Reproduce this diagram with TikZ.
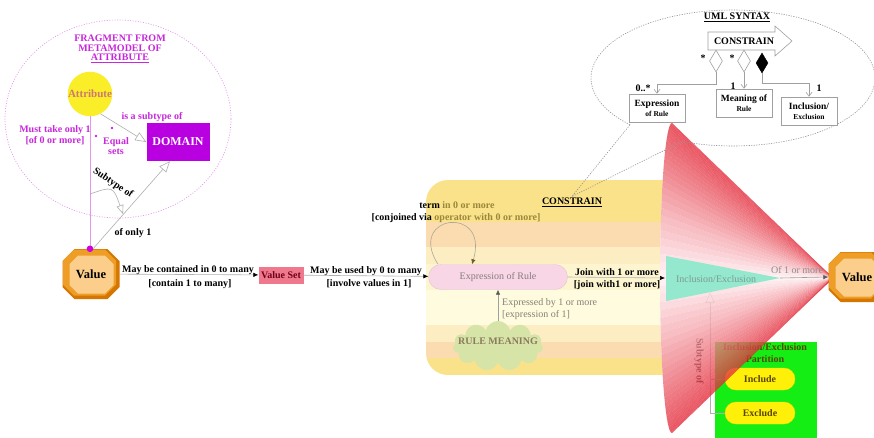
\documentclass[tikz,border=0pt]{standalone}
\usepackage{fontspec}
\setmainfont{Liberation Serif}
\usetikzlibrary{arrows.meta,shapes.geometric,shapes.misc,shapes.symbols,calc}

\definecolor{mag}{RGB}{200,40,220}
\definecolor{magline}{RGB}{228,150,232}
\definecolor{magdotc}{RGB}{205,0,225}
\definecolor{domainc}{RGB}{185,0,225}
\definecolor{attrc}{RGB}{250,238,40}
\definecolor{attrtext}{RGB}{205,120,115}
\definecolor{linegray}{RGB}{175,175,175}
\definecolor{octdark}{RGB}{212,118,0}
\definecolor{octmid}{RGB}{238,158,38}
\definecolor{octin}{RGB}{252,206,140}
\definecolor{valset}{RGB}{240,120,140}
\definecolor{vsettext}{RGB}{110,0,25}
\definecolor{exprpink}{RGB}{248,214,230}
\definecolor{exprtext}{RGB}{135,125,125}
\definecolor{cloudc}{RGB}{214,228,168}
\definecolor{rmtext}{RGB}{140,122,92}
\definecolor{band1}{RGB}{250,226,138}
\definecolor{band2}{RGB}{250,220,176}
\definecolor{band3}{RGB}{252,238,194}
\definecolor{band4}{RGB}{253,245,208}
\definecolor{band5}{RGB}{255,251,222}
\definecolor{olivetxt}{RGB}{155,135,60}
\definecolor{conered}{RGB}{228,45,60}
\definecolor{conelight}{RGB}{255,240,242}
\definecolor{tealc}{RGB}{148,232,206}
\definecolor{tealtext}{RGB}{125,155,148}
\definecolor{greenbox}{RGB}{20,238,20}
\definecolor{ovalyel}{RGB}{255,240,10}
\definecolor{olivetext}{RGB}{90,70,0}
\definecolor{umlgray}{RGB}{160,160,160}

\newcommand{\boldlbl}{\fontsize{10}{12.5}\selectfont\bfseries}
\newcommand{\plainlbl}{\fontsize{10}{12.5}\selectfont}

% octagon around a centre: centre, half width, half height, chamfer
\newcommand{\octpath}[4]{%
  ($(#1)+(-#2+#4,-#3)$) -- ($(#1)+(#2-#4,-#3)$) -- ($(#1)+(#2,-#3+#4)$) -- ($(#1)+(#2,#3-#4)$)
  -- ($(#1)+(#2-#4,#3)$) -- ($(#1)+(-#2+#4,#3)$) -- ($(#1)+(-#2,#3-#4)$) -- ($(#1)+(-#2,-#3+#4)$) -- cycle}

% octagonal "Value" node: name, x, y
\newcommand{\valuenode}[3]{%
  \node[minimum width=57, minimum height=50, inner sep=0pt] (#1) at (#2,#3) {};
  \coordinate (#1-m) at ($(#1)+(-1.5,-1.5)$);
  \coordinate (#1-i) at ($(#1)+(0.5,0.5)$);
  \fill[octdark] \octpath{#1}{28.5}{25}{12};
  \fill[octmid] \octpath{#1-m}{26.5}{23}{11};
  \fill[octin] \octpath{#1-i}{22}{19}{8.5};
  \node[font=\fontsize{12.5}{14}\selectfont\bfseries] at (#1) {Value};
}

\begin{document}
\begin{tikzpicture}[x=1pt,y=-1pt,
  every node/.style={font=\boldlbl, inner sep=1pt},
  flow/.style={draw=linegray, line width=0.6pt, -{Latex[length=5pt,width=4.5pt,color=black]}},
  grayflow/.style={draw=gray!75, line width=0.6pt, -{Latex[length=5pt,width=4.5pt,color=gray!70!black]}},
  inherit/.style={draw=linegray, line width=0.6pt, -{Triangle[open,length=11pt,width=9pt]}},
  magtext/.style={text=mag, align=center, font=\fontsize{10}{10.5}\selectfont\bfseries},
  dotsline/.style={draw=gray!85, line width=0.6pt, dash pattern=on 1.2pt off 1.3pt},
  umlline/.style={draw=umlgray, line width=0.6pt, -{Straight Barb[length=4pt,width=6pt]}},
  umlbox/.style={draw=umlgray, fill=white, line width=0.6pt, minimum width=56, minimum height=28,
                 align=center, inner sep=1pt, font=\fontsize{9.5}{10.5}\selectfont\bfseries},
  ovalbox/.style={rounded corners=11, fill=ovalyel, draw=ovalyel!80!orange, minimum width=70,
                  minimum height=22, text=olivetext}
]
\useasboundingbox (0,0) rectangle (874,437);
\fill[white] (0,0) rectangle (874,437);

% ---------------- fragment from the metamodel of attribute
\draw[magline, line width=0.7pt, dash pattern=on 1pt off 1.6pt] (118,119) ellipse [x radius=113, y radius=99];
\node[magtext, font=\fontsize{10}{9.5}\selectfont\bfseries] (frag) at (120,49)
  {FRAGMENT FROM\\METAMODEL OF\\\underline{ATTRIBUTE}};
\node[circle, fill=attrc, minimum size=44, inner sep=0pt, text=attrtext,
      font=\fontsize{11}{12}\selectfont\bfseries] (attr) at (90,94) {Attribute};
\node[fill=domainc, minimum width=63, minimum height=38, text=white,
      font=\fontsize{12}{14}\selectfont\bfseries] (domain) at (178,142) {DOMAIN};

\valuenode{valL}{91}{274}
\draw[magline, line width=0.9pt] (attr.south) -- (attr.south |- valL.north);
\fill[magdotc] (attr.south |- valL.north) circle (3.3);

\node[magtext] (subA) at (152,117) {is a subtype of};
\node[magtext] (must) at (55,135) {Must take only 1\\{}[of 0 or more]};
\node[magtext] (eqs) at (116,146) {Equal\\sets};
\fill[mag] (96,136) circle (1.4);
\fill[mag] (112,128) circle (1.4);

\draw[inherit] (attr.-62) -- (domain.west);
\coordinate (vtop) at ($(valL.north)+(2,0)$);
\coordinate (dsb) at ($(domain.south)+(-8,0)$);
\draw[inherit] (vtop) -- (dsb);
\node[rotate=-34] (subt) at (113,183) {Subtype of};
\coordinate (cA) at (90,194);
\coordinate (cB) at (123,214);
\draw[draw=linegray, line width=0.6pt, -{Triangle[open,length=9pt,width=7pt]}] (cA) .. controls (113,186) .. (cB);
\node (only1) at (133,233) {of only 1};

% ---------------- value set
\node[fill=valset, minimum width=45, minimum height=17, text=vsettext] (vset) at (281,275) {Value Set};
\draw[flow] (valL) -- (vset);
\node (l1a) at (188,270) {May be contained in 0 to many};
\node (l1b) at (190,284) {[contain 1 to many]};

% ---------------- striped cylinder, ending on the cone's rim
\begin{scope}
  \clip[rounded corners=22] (426,180) rectangle (740,375);
  \clip (400,100) -- (672,123) arc[start angle=270, end angle=90, x radius=12, y radius=155]
        -- (400,460) -- cycle;
  \fill[band1] (420,180) rectangle (700,222);
  \fill[band2] (420,222) rectangle (700,247);
  \fill[band3] (420,247) rectangle (700,264);
  \fill[band4] (420,264) rectangle (700,290);
  \fill[band5] (420,290) rectangle (700,325);
  \fill[band3] (420,325) rectangle (700,342);
  \fill[band2] (420,342) rectangle (700,358);
  \fill[band1] (420,358) rectangle (700,375);
\end{scope}
\node (cnl) at (572,202) {\underline{CONSTRAIN}};

% ---------------- expression of rule and rule meaning
\node[rounded corners=12.5, fill=exprpink, draw=exprpink!80!gray, minimum width=139, minimum height=25,
      text=exprtext, font=\plainlbl] (expr) at (498,277) {Expression of Rule};
\draw[flow] (vset) -- (expr);
\node (l2a) at (366,271) {May be used by 0 to many};
\node (l2b) at (369,284) {[involve values in 1]};

\coordinate (lpA) at ($(expr.north)+(-60,0)$);
\coordinate (lpB) at ($(expr.north)+(-26,0)$);
\draw[draw=gray!60!olivetxt!70, line width=0.6pt, -{Latex[length=5pt,width=4.5pt,color=olivetxt!70!black]}]
  (lpA) .. controls +(-32,-50) and +(18,-60) .. (lpB);
\node (t1) at (457,205) {term\ \textcolor{olivetxt}{in 0 or more}};
\node (t2) at (456,218) {[conjoined via\ \textcolor{olivetxt}{operator with 0 or more]}};

\node[cloud, cloud puffs=11, aspect=1.8, fill=cloudc, minimum width=90, minimum height=50, inner sep=0pt]
  (cloud) at (498,346) {};
\node[text=rmtext] (rm) at (498,341) {RULE MEANING};
\draw[grayflow] (cloud.north) -- (expr.south);
\node[anchor=west, align=left, text=gray!85!olivetxt, font=\plainlbl] (exby) at (501,309)
  {Expressed by 1 or more\\{}[expression of 1]};

% ---------------- inclusion / exclusion partition
\node[fill=greenbox, anchor=north west, minimum width=102, minimum height=100, inner sep=0pt] (part) at (715,342) {};
\node[text=olivetext, align=center] (ptitle) at (765,353) {Inclusion/Exclusion\\Partition};
\node[ovalbox] (inc) at (760,379) {Include};
\node[ovalbox] (exc) at (760,413) {Exclude};
\coordinate (tealB) at (710,292);
\draw[inherit] (exc.west) -| (tealB);
\draw[draw=linegray, line width=0.6pt] (inc.west) -- (inc.west -| tealB);
\node[rotate=-90] (subt2) at (699,361) {Subtype of};

% ---------------- red cone fanning into the value
\coordinate (apex) at (833,278);
\foreach \i in {0,...,59}{
  \pgfmathsetmacro{\ta}{90+3*\i}
  \pgfmathsetmacro{\tb}{93+3*\i}
  \pgfmathsetmacro{\s}{abs(sin(91.5+3*\i))+0.001}
  \pgfmathtruncatemacro{\f}{100*(\s^1.1)}
  \fill[conered!\f!conelight, fill opacity=0.8] (apex)
     -- ({672+12*cos(\ta)},{278-155*sin(\ta)})
     -- ({672+12*cos(\tb)},{278-155*sin(\tb)}) -- cycle;
}

\fill[tealc] (666,256) -- (780,278) -- (666,301) -- cycle;
\node[text=tealtext, font=\plainlbl] (incl) at (716,279) {Inclusion/Exclusion};
\coordinate (inclL) at (665,278);
\coordinate (tealTip) at (780,278);
\draw[flow] (expr.east) -- (inclL);
\node (j1) at (617,272) {Join with 1 or more};
\node (j2) at (617,285) {[join with1 or more]};

\valuenode{valR}{857}{277}
\draw[grayflow] (tealTip) -- (valR.west);
\node[text=gray!90, font=\plainlbl] (of1) at (797,270) {Of 1 or more};

% ---------------- UML syntax callout
\draw[dotsline] (630.0,124.8) arc[start angle=136.5, end angle=471, x radius=142, y radius=68];
\coordinate (tl1) at (630.0,124.8);
\coordinate (tl2) at (682.1,141.5);
\draw[dotsline] (tl1) -- (cnl.north) -- (tl2);

\node (umltitle) at (737,17) {\underline{UML SYNTAX}};
\draw[umlgray, line width=0.6pt, fill=white] (708,32) -- (775,32) -- (775,26) -- (792,41)
  -- (775,56) -- (775,50) -- (708,50) -- cycle;
\node (umlc) at (744,41) {CONSTRAIN};

\node[diamond, draw=umlgray, fill=white, line width=0.6pt, inner sep=0pt, minimum width=13, minimum height=22] (d1) at (716,61) {};
\node[diamond, draw=umlgray, fill=white, line width=0.6pt, inner sep=0pt, minimum width=13, minimum height=22] (d2) at (744,61) {};
\node[diamond, draw=black, fill=black, inner sep=0pt, minimum width=12, minimum height=20] (d3) at (762,63) {};
\node (st1) at (703,58) {*};
\node (st2) at (732,58) {*};

\node[umlbox] (ue) at (657,108) {Expression\\{\fontsize{7.5}{9}\selectfont of Rule}};
\node[umlbox] (um) at (744,103) {Meaning of\\{\fontsize{7.5}{9}\selectfont Rule}};
\node[umlbox] (ui) at (809,111) {Inclusion/\\{\fontsize{7.5}{9}\selectfont Exclusion}};

\draw[umlline] (d1.south) -- ++(0,12) -| (ue.north);
\draw[umlline] (d2.south) -- (um.north);
\draw[umlline] (d3.south) -- ++(0,10) -| (ui.north);
\node (n1) at (643,88) {0..*};
\node (n2) at (733,86) {1};
\node (n3) at (819,88) {1};

\end{tikzpicture}
\end{document}
